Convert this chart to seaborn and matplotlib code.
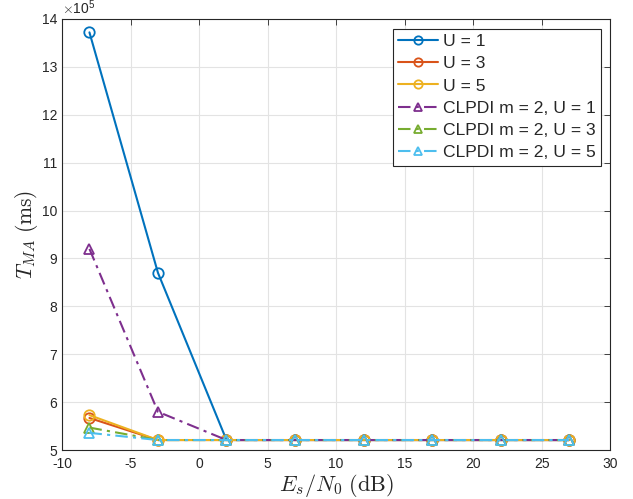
import matplotlib
matplotlib.use("Agg")
import matplotlib.pyplot as plt
from matplotlib.ticker import FuncFormatter
from matplotlib.lines import Line2D
import seaborn as sns
import numpy as np

snr_db = [-8, -3, 2, 7, 12, 17, 22, 27]
u1 = [13.72e5, 8.70e5, 5.21e5, 5.21e5, 5.21e5, 5.21e5, 5.21e5, 5.21e5]
u3 = [5.67e5, 5.21e5, 5.21e5, 5.21e5, 5.21e5, 5.21e5, 5.21e5, 5.21e5]
u5 = [5.73e5, 5.21e5, 5.21e5, 5.21e5, 5.21e5, 5.21e5, 5.21e5, 5.21e5]
clpdi_u1 = [9.20e5, 5.80e5, 5.21e5, 5.21e5, 5.21e5, 5.21e5, 5.21e5, 5.21e5]
clpdi_u3 = [5.47e5, 5.21e5, 5.21e5, 5.21e5, 5.21e5, 5.21e5, 5.21e5, 5.21e5]
clpdi_u5 = [5.36e5, 5.21e5, 5.21e5, 5.21e5, 5.21e5, 5.21e5, 5.21e5, 5.21e5]

labels = ["U = 1", "U = 3", "U = 5",
          "CLPDI m = 2, U = 1", "CLPDI m = 2, U = 3", "CLPDI m = 2, U = 5"]
series = [u1, u3, u5, clpdi_u1, clpdi_u3, clpdi_u5]
colors = ["#0072BD", "#D95319", "#EDB120", "#7E2F8E", "#77AC30", "#4DBEEE"]
markers = ["o", "o", "o", "^", "^", "^"]
dashed = [False, False, False, True, True, True]
dashdot = (6, 2.5, 1.5, 2.5)

sns.set_style("white")
plt.rcParams['font.family'] = ['Liberation Sans', 'DejaVu Sans']
plt.rcParams['mathtext.fontset'] = 'cm'
plt.rcParams['axes.unicode_minus'] = False

fig = plt.figure(figsize=(6.33, 4.99), dpi=100)
ax = fig.add_axes([0.098, 0.098, 0.866, 0.864])

handles = []
for ys, lab, c, m, dd in zip(series, labels, colors, markers, dashed):
    kw = dict(color=c, linewidth=1.5, marker=m, markerfacecolor='none',
              markeredgecolor=c, markeredgewidth=1.3)
    if dd:
        kw['dashes'] = dashdot
    else:
        kw['linestyle'] = '-'
    sns.lineplot(x=snr_db, y=ys, ax=ax, markersize=7.5,
                 estimator=None, sort=False, legend=False, **kw)
    handles.append(Line2D([], [], markersize=6, label=lab, **kw))

ax.set_xlim(-10, 30)
ax.set_ylim(5e5, 14e5)
ax.set_xticks(np.arange(-10, 31, 5))
ax.set_yticks(np.arange(5e5, 14.01e5, 1e5))
ax.yaxis.set_major_formatter(FuncFormatter(lambda v, p: f"{v/1e5:g}"))
ax.text(0.0, 1.004, r'$\times\mathregular{10^{5}}$', transform=ax.transAxes,
        fontsize=10, ha='left', va='bottom', color='#262626')
ax.grid(True, color='#e3e3e3', linewidth=0.8)
ax.tick_params(direction='in', top=True, right=True, labelsize=10,
               length=4, width=0.6, colors='#262626')
ax.tick_params(axis='x', pad=5)
for sp in ax.spines.values():
    sp.set_color('#262626')
    sp.set_linewidth(0.8)

ax.set_xlabel(r'$E_s/N_0\ \mathrm{(dB)}$', fontsize=16, labelpad=1)
ax.set_ylabel(r'$T_{MA}\ \mathrm{(ms)}$', fontsize=15.5, labelpad=1)

leg = ax.legend(handles=handles, loc='upper right', fontsize=12.6, frameon=True,
                fancybox=False, edgecolor='#262626', framealpha=1, borderpad=0.3,
                labelspacing=0.4, handlelength=2.3, handletextpad=0.25,
                borderaxespad=0.55)
leg.get_frame().set_linewidth(0.8)

fig.savefig("out.png", dpi=100)
